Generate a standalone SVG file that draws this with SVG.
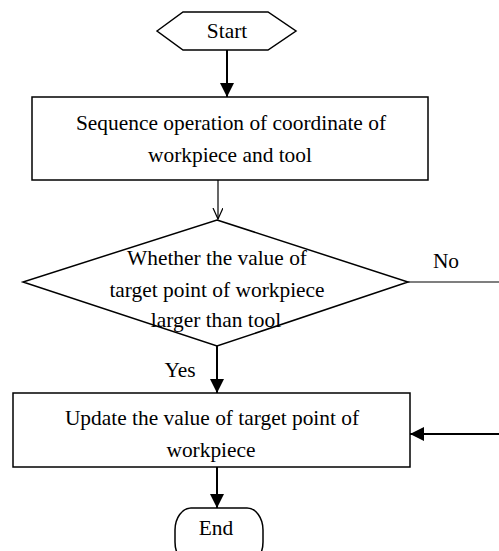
<svg xmlns="http://www.w3.org/2000/svg" width="499" height="551" viewBox="0 0 499 551">
<style>
.s{fill:#fff;stroke:#000;stroke-width:1.5}
.t{font-family:'Liberation Serif','Times New Roman',Tinos,'DejaVu Serif',serif;font-size:21.4px;fill:#000;text-anchor:middle}
.c{stroke:#000;stroke-width:2;fill:none}
.c1{stroke:#000;stroke-width:1.2;fill:none}
</style>
<defs>
<marker id="ah" markerUnits="userSpaceOnUse" markerWidth="14" markerHeight="16" refX="14" refY="7" orient="auto">
<path d="M0,0 L14,7 L0,14 Z" fill="#000"/>
</marker>
<marker id="av" markerUnits="userSpaceOnUse" markerWidth="12" markerHeight="12" refX="11" refY="5" orient="auto">
<path d="M0,0 L11,5 L0,10" fill="none" stroke="#000" stroke-width="1.2"/>
</marker>
</defs>
<g id="connectors">
<line class="c" x1="227" y1="50" x2="227" y2="97" marker-end="url(#ah)"/>
<line class="c1" x1="218" y1="180" x2="218" y2="219" marker-end="url(#av)"/>
<line class="c" x1="217" y1="346" x2="217" y2="393" marker-end="url(#ah)"/>
<line class="c1" x1="408" y1="282" x2="499" y2="282"/>
<line class="c" x1="499" y1="434" x2="410" y2="434" marker-end="url(#ah)"/>
<line class="c" x1="217" y1="467" x2="217" y2="508" marker-end="url(#ah)"/>
<text class="t" x="446" y="268">No</text>
<text class="t" x="180" y="377">Yes</text>
</g>
<g id="start">
<polygon class="s" points="157,31 183,12 268,12 296,31 268,50 183,50"/>
<text class="t" x="227" y="38">Start</text>
</g>
<g id="sequence">
<rect class="s" x="32" y="97" width="396" height="83"/>
<text class="t" x="231" y="130">Sequence operation of coordinate of</text>
<text class="t" x="230" y="162">workpiece and tool</text>
</g>
<g id="decision">
<polygon class="s" points="217,220 408,282 217,346 23,282"/>
<text class="t" x="217" y="265">Whether the value of</text>
<text class="t" x="217" y="297">target point of workpiece</text>
<text class="t" x="216" y="327">larger than tool</text>
</g>
<g id="update">
<rect class="s" x="13" y="393" width="397" height="74"/>
<text class="t" x="212" y="425">Update the value of target point of</text>
<text class="t" x="211" y="457">workpiece</text>
</g>
<g id="end">
<rect class="s" x="175" y="508" width="88" height="56" rx="16" ry="22"/>
<text class="t" x="216" y="535">End</text>
</g>
</svg>
